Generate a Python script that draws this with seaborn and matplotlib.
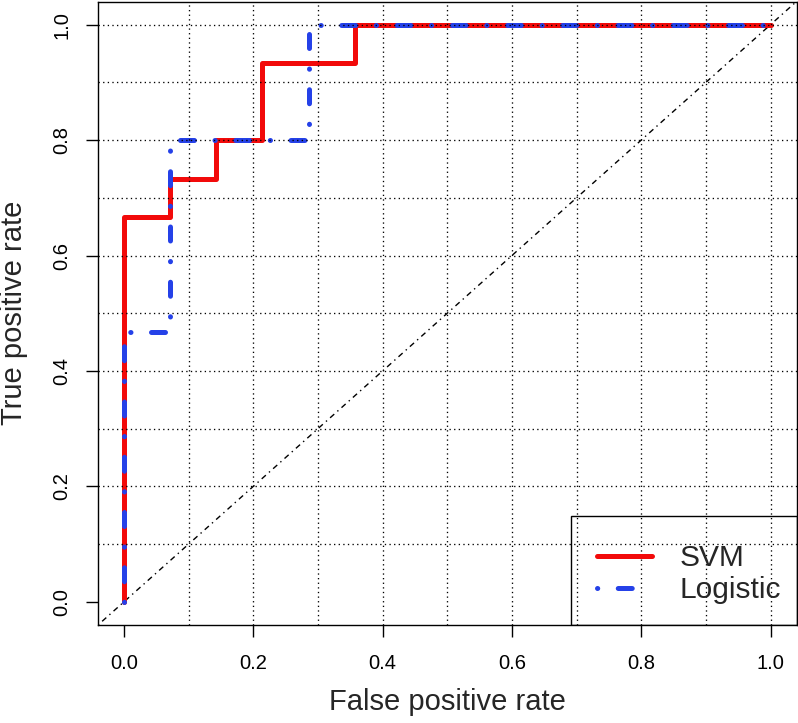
import numpy as np
import pandas as pd
import matplotlib
matplotlib.use("Agg")
import matplotlib.pyplot as plt
import matplotlib.patches as mpatches
import seaborn as sns

# ROC points (15 positives, 14 negatives)
svm_fpr = [0.0, 0.0, 1/14, 1/14, 2/14, 2/14, 3/14, 3/14, 5/14, 5/14, 1.0]
svm_tpr = [0.0, 10/15, 10/15, 11/15, 11/15, 12/15, 12/15, 14/15, 14/15, 1.0, 1.0]

logit_fpr = [0.0, 0.0, 1/14, 1/14, 4/14, 4/14, 1.0]
logit_tpr = [0.0, 7/15, 7/15, 12/15, 12/15, 1.0, 1.0]

tick_vals = [0.0, 0.2, 0.4, 0.6, 0.8, 1.0]
grid_vals = [0.1, 0.2, 0.3, 0.4, 0.5, 0.6, 0.7, 0.8, 0.9, 1.0]

sns.set_style("ticks")
plt.rcParams['font.family'] = ['Liberation Sans', 'DejaVu Sans']

svm = pd.DataFrame({'fpr': svm_fpr, 'tpr': svm_tpr})
logit = pd.DataFrame({'fpr': logit_fpr, 'tpr': logit_tpr})

fig = plt.figure(figsize=(7.98, 7.23), dpi=100)
W, H = 798, 723
left, right, top, bottom = 98, 796.5, 1.5, 625
aw, ah = right - left, bottom - top
ax = fig.add_axes([left / W, (H - bottom) / H, aw / W, ah / H])

# diagonal reference line
ax.axline((0, 0), slope=1, color='black', lw=1.0, dashes=(1, 3, 4, 3), zorder=1.5)

sns.lineplot(data=svm, x='fpr', y='tpr', estimator=None, sort=False, ax=ax,
             color='#F20A0A', lw=3.6, label='SVM')
l1 = ax.lines[-1]
l1.set_solid_capstyle('round')
l1.set_solid_joinstyle('round')

sns.lineplot(data=logit, x='fpr', y='tpr', estimator=None, sort=False, ax=ax,
             color='#2541E8', lw=3.6, label='Logistic')
l2 = ax.lines[-1]
l2.set_dashes((0.05, 4.1, 2.8, 4.1))
l2.set_dash_capstyle('round')

# dotted grid drawn over the curves
for v in grid_vals:
    ax.axvline(v, color='black', lw=0.95, ls=(0, (1, 2.5)), zorder=3)
    ax.axhline(v, color='black', lw=0.95, ls=(0, (1, 2.5)), zorder=3)

ax.set_xlim(-0.04, 1.04)
ax.set_ylim(-0.04, 1.04)
ax.set_xticks(tick_vals)
ax.set_yticks(tick_vals)
ax.set_xticklabels([f"{v:.1f}" for v in tick_vals])
ax.set_yticklabels([f"{v:.1f}" for v in tick_vals], rotation=90, va='center')
ax.tick_params(direction='out', length=8.6, width=1.0, colors='black',
               labelsize=14.5)
ax.tick_params(axis='x', pad=12)
ax.tick_params(axis='y', pad=10.5)

for s in ax.spines.values():
    s.set_visible(True)
    s.set_linewidth(1.0)
    s.set_color('black')

ax.set_xlabel('False positive rate', fontsize=21)
ax.set_ylabel('True positive rate', fontsize=21)
ax.xaxis.set_label_coords(0.5, (bottom - 688.5) / ah)
ax.yaxis.set_label_coords((28 - left) / aw, 0.5)

# legend box: R style, transparent, flush with the bottom-right corner
ax.add_patch(mpatches.Rectangle(((571 - left) / aw, 0), (right - 571) / aw,
                                (bottom - 516) / ah, transform=ax.transAxes,
                                fill=False, edgecolor='black', lw=1.0, zorder=4))
leg = ax.legend(loc='lower right', bbox_to_anchor=(1 + 2 / aw, 3 / ah),
                borderaxespad=0, fontsize=21.5, handlelength=1.85,
                handletextpad=0.9, labelspacing=0.13, borderpad=0.6,
                frameon=False)
for h in leg.get_lines():
    h.set_linewidth(3.6)

fig.savefig('out.png', dpi=100)
